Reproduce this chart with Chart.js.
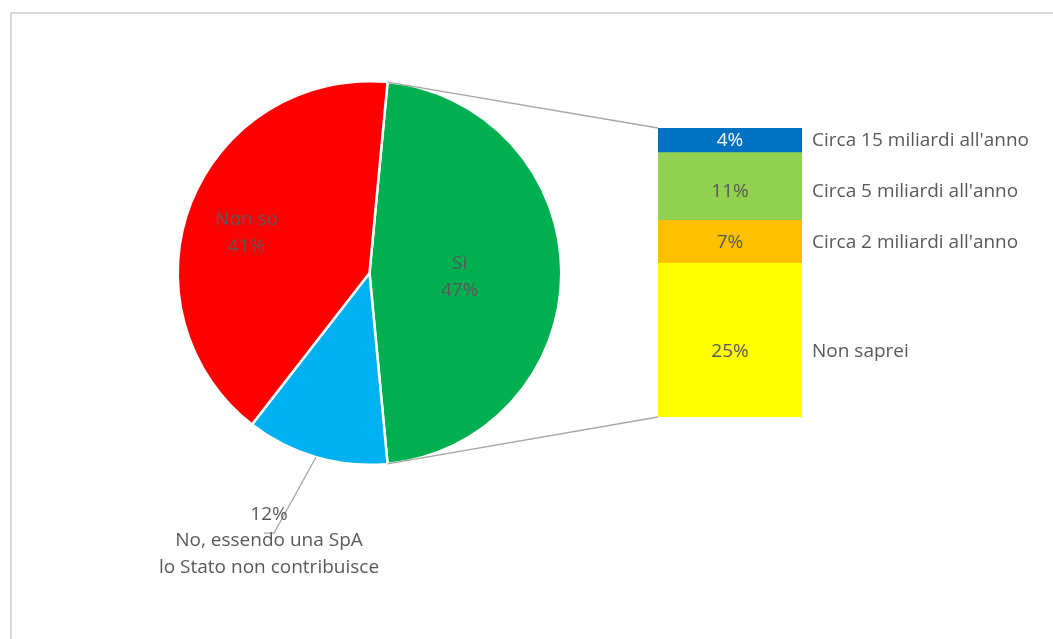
<!DOCTYPE html>
<html>
<head>
<meta charset="utf-8">
<script src="https://cdn.jsdelivr.net/npm/chart.js@4.4.1/dist/chart.umd.min.js"></script>
<style>
  html, body { margin: 0; padding: 0; background: #ffffff; }
  body { width: 1053px; height: 639px; position: relative; overflow: hidden; }
  #frame { position: absolute; left: 10px; top: 12px; width: 1100px; height: 700px;
           border-top: 2px solid #d9d9d9; border-left: 2px solid #d9d9d9; box-sizing: border-box; }
  canvas { position: absolute; left: 0; top: 0; }
</style>
</head>
<body>
<div id="frame"></div>
<canvas id="pie" width="1053" height="639"></canvas>
<canvas id="bar" width="1053" height="639"></canvas>
<script>
// ---- data ----
const pieLabels = ["Sì", "No, essendo una SpA lo Stato non contribuisce", "Non so"];
const pieValues = [47, 12, 41];
const pieColors = ["#00B050", "#00B0F0", "#FF0000"];

const barLabels = ["Non saprei", "Circa 2 miliardi all'anno", "Circa 5 miliardi all'anno", "Circa 15 miliardi all'anno"];
const barValues = [25, 7, 11, 4];
const barColors = ["#FFFF00", "#FFC000", "#92D050", "#0070C0"];

const FONT = "19px 'Open Sans', 'Liberation Sans', sans-serif";
const TEXT = "#595959";

// pie rotation so the first slice is centred on the right side
const pieTotal = pieValues.reduce((a, b) => a + b, 0);
const pieRotation = 90 - pieValues[0] / pieTotal * 180;

// pie label layout
const pieLabelLayout = [
  { f: 0.47, dx: 0, dy: 4, lines: ["Sì", "%"] },
  { leader: { dx: -42, dy: 76 }, lines: ["%", "No, essendo una SpA", "lo Stato non contribuisce"] },
  { f: 0.69, dx: 0, dy: 9, lines: ["Non so", "%"] }
];

const pieLabelPlugin = {
  id: 'pieLabels',
  afterDraw(chart) {
    const ctx = chart.ctx;
    const meta = chart.getDatasetMeta(0);
    ctx.save();
    ctx.font = FONT;
    ctx.fillStyle = TEXT;
    ctx.textAlign = 'center';
    ctx.textBaseline = 'middle';
    meta.data.forEach((arc, i) => {
      const p = arc.getProps(['x', 'y', 'startAngle', 'endAngle', 'outerRadius'], true);
      const mid = (p.startAngle + p.endAngle) / 2;
      const L = pieLabelLayout[i];
      const pct = Math.round(pieValues[i] / pieTotal * 100) + '%';
      const lines = L.lines.map(s => s === '%' ? pct : s);
      if (L.leader) {
        const ex = p.x + Math.cos(mid) * p.outerRadius;
        const ey = p.y + Math.sin(mid) * p.outerRadius;
        const lx = ex + L.leader.dx;
        const ly = ey + L.leader.dy;
        ctx.strokeStyle = '#A6A6A6';
        ctx.lineWidth = 1.2;
        ctx.beginPath();
        ctx.moveTo(ex, ey);
        ctx.lineTo(lx, ly);
        ctx.lineTo(lx - 10, ly);
        ctx.stroke();
        const cx = lx - 5;
        const top = ly - 19;
        lines.forEach((s, k) => ctx.fillText(s, cx, top + k * 26.5));
      } else {
        const cx = p.x + Math.cos(mid) * p.outerRadius * L.f + L.dx;
        const cy = p.y + Math.sin(mid) * p.outerRadius * L.f + L.dy;
        const n = lines.length;
        lines.forEach((s, k) => ctx.fillText(s, cx, cy + (k - (n - 1) / 2) * 27));
      }
    });
    ctx.restore();
  }
};

const pieChart = new Chart(document.getElementById('pie'), {
  type: 'pie',
  data: {
    labels: pieLabels,
    datasets: [{
      data: pieValues,
      backgroundColor: pieColors,
      borderColor: '#ffffff',
      borderWidth: 2.5
    }]
  },
  options: {
    responsive: false,
    animation: false,
    rotation: pieRotation,
    layout: { padding: { left: 176, right: 490, top: 80, bottom: 173 } },
    plugins: { legend: { display: false }, tooltip: { enabled: false } }
  },
  plugins: [pieLabelPlugin]
});

// bar label vertical tweaks (px)
const barLabelDy = [11, 1, 5, 0];

const barLabelPlugin = {
  id: 'barLabels',
  afterDraw(chart) {
    const ctx = chart.ctx;
    ctx.save();
    // connector lines from pie to bar
    const arc = pieChart.getDatasetMeta(0).data[0];
    const p = arc.getProps(['x', 'y', 'startAngle', 'endAngle', 'outerRadius'], true);
    const topBar = chart.getDatasetMeta(barValues.length - 1).data[0];
    const botBar = chart.getDatasetMeta(0).data[0];
    const tb = topBar.getProps(['x', 'y', 'base', 'width'], true);
    const bb = botBar.getProps(['x', 'y', 'base', 'width'], true);
    ctx.strokeStyle = '#A6A6A6';
    ctx.lineWidth = 1.3;
    ctx.beginPath();
    ctx.moveTo(p.x + Math.cos(p.startAngle) * p.outerRadius, p.y + Math.sin(p.startAngle) * p.outerRadius);
    ctx.lineTo(tb.x - tb.width / 2, tb.y);
    ctx.moveTo(p.x + Math.cos(p.endAngle) * p.outerRadius, p.y + Math.sin(p.endAngle) * p.outerRadius);
    ctx.lineTo(bb.x - bb.width / 2, bb.base);
    ctx.stroke();

    ctx.font = FONT;
    ctx.textBaseline = 'middle';
    barValues.forEach((v, i) => {
      const el = chart.getDatasetMeta(i).data[0];
      const b = el.getProps(['x', 'y', 'base', 'width'], true);
      const cy = (b.y + b.base) / 2 + barLabelDy[i];
      ctx.textAlign = 'center';
      ctx.fillStyle = barColors[i] === '#0070C0' ? '#FFFFFF' : TEXT;
      ctx.fillText(v + '%', b.x, cy);
      ctx.textAlign = 'left';
      ctx.fillStyle = TEXT;
      ctx.fillText(barLabels[i], b.x + b.width / 2 + 10, cy);
    });
    ctx.restore();
  }
};

new Chart(document.getElementById('bar'), {
  type: 'bar',
  data: {
    labels: [''],
    datasets: barValues.map((v, i) => ({
      label: barLabels[i],
      data: [v],
      backgroundColor: barColors[i],
      borderWidth: 0,
      barPercentage: 1,
      categoryPercentage: 1
    }))
  },
  options: {
    responsive: false,
    animation: false,
    layout: { padding: { left: 658, right: 251, top: 128, bottom: 222 } },
    scales: {
      x: { stacked: true, display: false },
      y: { stacked: true, display: false, min: 0, max: barValues.reduce((a, b) => a + b, 0) }
    },
    plugins: { legend: { display: false }, tooltip: { enabled: false } }
  },
  plugins: [barLabelPlugin]
});
</script>
</body>
</html>
